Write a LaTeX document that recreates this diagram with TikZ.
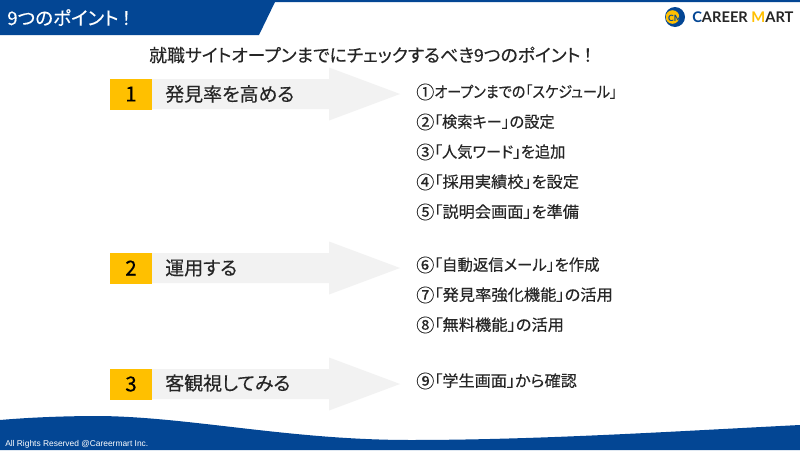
\documentclass[tikz,border=0pt]{standalone}
\usepackage{graphicx}
\usepackage{fontspec}
\setmainfont{Noto Sans CJK JP}[RawFeature=+palt,FakeBold=0.25]
\newfontfamily\logofont{Lato}
\newfontfamily\footfont{Liberation Sans}
\definecolor{cmblue}{HTML}{034694}
\definecolor{cmyellow}{HTML}{FFC000}
\definecolor{cmgrey}{HTML}{F2F2F2}
\definecolor{cmink}{HTML}{262626}
\newcommand{\circnum}[1]{\raisebox{-.08em}{\scalebox{1.15}{#1}}}
\tikzset{
  pointlabel/.style={anchor=west,font=\fontsize{14.2pt}{16pt}\selectfont,text=cmink,inner sep=0pt},
  pointnum/.style={font=\fontsize{15.5pt}{16pt}\selectfont,text=black,inner sep=0pt},
  itemlabel/.style={anchor=west,font=\fontsize{11.8pt}{14pt}\selectfont,text=cmink,inner sep=0pt}
}
\begin{document}
\begin{tikzpicture}[x=0.75pt,y=-0.75pt]
  \useasboundingbox (0,0) rectangle (800,450);
  \fill[white] (0,0) rectangle (800,450);

  % Header band
  \fill[cmblue] (0,0) -- (800,0) -- (800,2) -- (275,2) -- (259,35) -- (0,35) -- cycle;
  \node[anchor=west,inner sep=0pt,text=white,font=\fontsize{14pt}{15pt}\selectfont] (header) at (7,17.5) {9つのポイント\,！};

  % Logo
  \fill[cmblue] (675,17) circle (10);
  \fill[cmyellow] (672.5,17) circle (6.8);
  \node[inner sep=0pt,text=cmblue,font=\logofont\fontsize{6.5pt}{7pt}\selectfont\bfseries] (logomark) at (675,18.5) {CM};
  \node[anchor=west,inner sep=0pt,font=\logofont\fontsize{11pt}{14pt}\selectfont\bfseries] (logotext) at (692,17)
    {\textcolor{cmblue}{C}\textcolor{cmink}{AREER} \textcolor{cmyellow}{M}\textcolor{cmink}{ART}};

  % Title
  \node[anchor=west,inner sep=0pt,text=cmink,font=\fontsize{13.4pt}{16pt}\selectfont] (title) at (149,55) {就職サイトオープンまでにチェックするべき9つのポイント\,！};

  % Three points with their arrows
  \foreach \ya/\yt/\num/\txt in {94/94/1/発見率を高める,268/268/2/運用する,384/383/3/客観視してみる}{
    \fill[cmgrey] (152,\ya-15) -- (329,\ya-15) -- (329,\ya-26.5) -- (400,\ya)
      -- (329,\ya+26.5) -- (329,\ya+15) -- (152,\ya+15) -- cycle;
    \fill[cmyellow] (110,\ya-15.5) rectangle (152,\ya+15.5);
    \node[pointnum] (num\num) at (131,\ya) {\num};
    \node[pointlabel] (point\num) at (165,\yt) {\txt};
  }

  % List on the right
  \foreach \yb/\idx/\xs/\dg/\txt in {92/1/.895/①/オープンまでの「スケジュール」,
      122/2/.97/②/「検索キー」の設定,
      152/3/.97/③/「人気ワード」を追加,
      182/4/1.03/④/「採用実績校」を設定,
      212/5/1.03/⑤/「説明会画面」を準備,
      265/6/.98/⑥/「自動返信メール」を作成,
      295/7/1.035/⑦/「発見率強化機能」の活用,
      325/8/1.035/⑧/「無料機能」の活用,
      381/9/1.025/⑨/「学生画面」から確認}{
    \node[itemlabel] (item\idx) at (416,\yb) {\circnum{\dg}\scalebox{\xs}[1]{\txt}};
  }

  % Footer wave
  \fill[cmblue] (0,420) .. controls (35,417) and (70,416) .. (100,416)
    .. controls (190,417) and (290,440) .. (410,440)
    .. controls (540,440) and (680,431) .. (800,425) -- (800,450) -- (0,450) -- cycle;
  \node[anchor=west,inner sep=0pt,text=white,font=\footfont\fontsize{6.3pt}{7pt}\selectfont] (footer) at (5,444.5) {All Rights Reserved @Careermart Inc.};
\end{tikzpicture}
\end{document}
